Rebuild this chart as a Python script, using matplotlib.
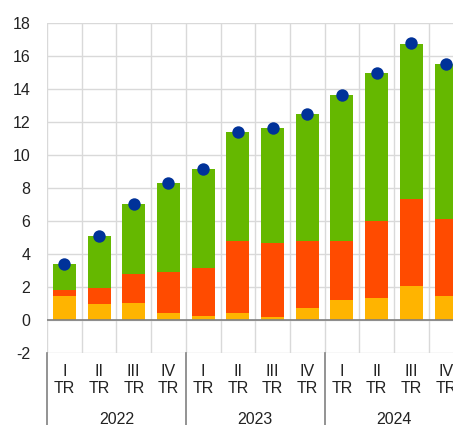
import numpy as np
import matplotlib
matplotlib.use("Agg")
import matplotlib.pyplot as plt
import matplotlib.transforms as mtransforms

plt.rcParams['font.family'] = ['Liberation Sans', 'DejaVu Sans']
plt.rcParams['axes.unicode_minus'] = False

# Quarterly contributions, 2022 Q1 - 2024 Q4
quarters = ["I", "II", "III", "IV"] * 3
years = ["2022", "2023", "2024"]
yellow_vals = [1.43, 0.97, 1.05, 0.40, 0.26, 0.42, 0.18, 0.75, 1.21, 1.35, 2.06, 1.43]
orange_vals = [0.41, 0.95, 1.72, 2.53, 2.89, 4.37, 4.47, 4.04, 3.58, 4.67, 5.27, 4.67]
green_vals = [1.54, 3.17, 4.26, 5.35, 5.98, 6.58, 6.97, 7.68, 8.85, 8.93, 9.42, 9.40]
total_vals = [3.40, 5.10, 7.05, 8.30, 9.15, 11.40, 11.65, 12.50, 13.65, 14.97, 16.77, 15.50]

c_yellow = "#FFB400"
c_orange = "#FF4B00"
c_green = "#65B800"
c_dot = "#003299"

fig = plt.figure(figsize=(4.53, 4.25), dpi=100)
W, H = 453, 425
left, top, bottom = 47, 23, 353
step = 34.7
ax = fig.add_axes([left / W, (H - bottom) / H, 12 * step / W, (bottom - top) / H])

x = np.arange(len(quarters))
yv = np.array(yellow_vals)
ov = np.array(orange_vals)
gv = np.array(green_vals)
bw = 0.66
ax.bar(x, yv, bw, color=c_yellow, zorder=2)
ax.bar(x, ov, bw, bottom=yv, color=c_orange, zorder=2)
ax.bar(x, gv, bw, bottom=yv + ov, color=c_green, zorder=2)
ax.scatter(x, total_vals, s=80, color=c_dot, zorder=3, linewidths=0)

ax.set_xlim(-0.5, 11.5)
ax.set_ylim(-2, 18)
ax.set_yticks(np.arange(-2, 19, 2))
ax.set_xticks(x)
ax.set_xticklabels([q + "\nTR" for q in quarters], fontsize=11.5, color="#222222",
                   linespacing=1.15)
ax.tick_params(axis="x", length=0, pad=8)
ax.tick_params(axis="y", length=0, pad=12, labelsize=11.5, labelcolor="#222222")

# grid: horizontal at ticks, vertical at category boundaries
for yy in np.arange(-2, 19, 2):
    ax.axhline(yy, color="#d9d9d9", lw=1, zorder=0)
for xx in np.arange(-0.5, 12, 1):
    ax.axvline(xx, color="#d9d9d9", lw=1, zorder=0)
ax.axhline(0, color="#808080", lw=1.2, zorder=2.5)
for s in ax.spines.values():
    s.set_visible(False)

# year labels and separators under the axis
trans = mtransforms.blended_transform_factory(ax.transData, ax.transAxes)
for i, yr in enumerate(years):
    ax.text(4 * i + 1.5, -0.2, yr, transform=trans, ha="center", va="center",
            fontsize=11.5, color="#222222")
for xs in [-0.5, 3.5, 7.5, 11.5]:
    ax.plot([xs, xs], [0, -0.25], transform=trans, color="#808080", lw=1.2,
            clip_on=False)

fig.savefig("out.png", dpi=100)
